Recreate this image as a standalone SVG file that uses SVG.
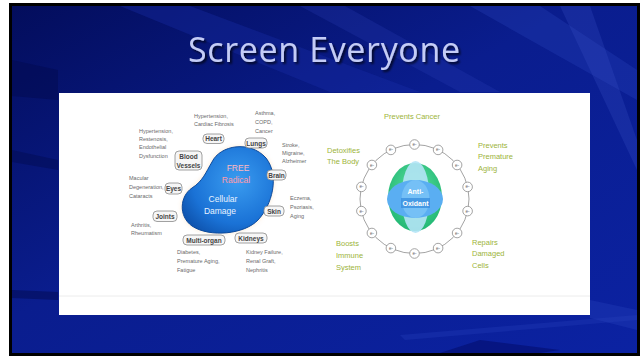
<svg xmlns="http://www.w3.org/2000/svg" width="641" height="358" viewBox="0 0 641 358">
  <defs>
    <linearGradient id="bg" x1="0" y1="0" x2="1" y2="1">
      <stop offset="0" stop-color="#030d5c"/>
      <stop offset="0.45" stop-color="#0a1d8e"/>
      <stop offset="1" stop-color="#0b22a2"/>
    </linearGradient>
    <radialGradient id="blob" cx="0.6" cy="0.4" r="0.7">
      <stop offset="0" stop-color="#3a9cf0"/>
      <stop offset="0.7" stop-color="#1a72d6"/>
      <stop offset="1" stop-color="#0f55b0"/>
    </radialGradient>
    <radialGradient id="green" cx="0.5" cy="0.4" r="0.6">
      <stop offset="0" stop-color="#5fe0a0"/>
      <stop offset="1" stop-color="#22b874"/>
    </radialGradient>
    <filter id="soft" x="-20%" y="-20%" width="140%" height="140%">
      <feGaussianBlur stdDeviation="2.5"/>
    </filter>
    <filter id="titleShadow" x="-10%" y="-30%" width="120%" height="160%">
      <feDropShadow dx="2" dy="2" stdDeviation="1" flood-color="#000000" flood-opacity="0.7"/>
    </filter>
  </defs>
  <style>
    .note { font-family: "Liberation Sans", Arial, sans-serif; font-size: 5.5px; fill: #6a6a6a; }
    .tag rect { fill: #f6f6f6; stroke: #8a8a8a; stroke-width: 0.8; }
    .tag .lbl { font-family: "Liberation Sans", Arial, sans-serif; font-size: 6.5px; font-weight: bold; fill: #444; text-anchor: middle; }
    .benefit { font-family: "Liberation Sans", Arial, sans-serif; font-size: 7.5px; fill: #9cb43a; }
    .electron circle { fill: #fff; stroke: #8c8c8c; stroke-width: 0.8; }
    .electron text { font-family: "Liberation Sans", Arial, sans-serif; font-size: 4.5px; fill: #666; text-anchor: middle; }
  </style>

  <!-- page margin and slide frame -->
  <rect width="641" height="358" fill="#ffffff"/>
  <rect x="9" y="3" width="631" height="353" fill="#000000"/>

  <!-- slide background with diagonal light streaks -->
  <g id="background">
    <rect x="12" y="6" width="625" height="347" fill="url(#bg)"/>
    <polygon points="120,6 190,6 420,92 330,92" fill="#1a2fa8" opacity="0.35"/>
    <polygon points="300,6 345,6 500,92 460,92" fill="#2a40b8" opacity="0.25"/>
    <polygon points="470,6 540,6 637,70 637,100" fill="#2c44bc" opacity="0.3"/>
    <polygon points="560,6 590,6 637,140 637,170" fill="#3a52c8" opacity="0.25"/>
    <polygon points="12,60 58,70 58,100 12,96" fill="#020a50" opacity="0.5"/>
    <polygon points="12,150 58,160 58,170 12,162" fill="#020a50" opacity="0.45"/>
    <polygon points="12,290 58,292 58,300 12,298" fill="#020a50" opacity="0.5"/>
    <polygon points="400,335 637,315 637,320 405,340" fill="#1c34b0" opacity="0.5"/>
    <polygon points="480,340 560,350 540,353 440,353" fill="#020a66" opacity="0.5"/>
    <polygon points="590,300 637,310 637,330 590,318" fill="#2a44c0" opacity="0.3"/>
  </g>

  <!-- title -->
  <g id="title">
    <text x="324" y="62" font-family="'Open Sans', 'Noto Sans', sans-serif" font-size="34" fill="#c4ccf6" text-anchor="middle" textLength="272" filter="url(#titleShadow)">Screen Everyone</text>
  </g>

  <!-- content panel -->
  <rect x="59" y="93" width="531" height="222" fill="#ffffff"/>
  <line x1="59" y1="296" x2="590" y2="296" stroke="#ececec" stroke-width="1"/>

  <!-- free radical damage map -->
  <g id="free-radical">
    <path d="M212,162 C220,145 250,140 266,158 C280,176 272,205 258,220 C245,234 210,238 192,226 C178,216 180,196 192,188 C203,181 206,172 212,162 Z" fill="#f6d2a8" opacity="0.6" filter="url(#soft)"/>
    <path d="M212,162 C220,145 250,140 266,158 C280,176 272,205 258,220 C245,234 210,238 192,226 C178,216 180,196 192,188 C203,181 206,172 212,162 Z" fill="url(#blob)" stroke="#0c4a9c" stroke-width="1"/>
    <text x="238" y="171" font-family="'Liberation Sans', Arial, sans-serif" font-size="8.5" fill="#ffb8c0" text-anchor="middle">FREE</text>
    <text x="236" y="183" font-family="'Liberation Sans', Arial, sans-serif" font-size="8.5" fill="#ff9aa8" text-anchor="middle">Radical</text>
    <text x="223" y="202" font-family="'Liberation Sans', Arial, sans-serif" font-size="8.5" fill="#e8f2ff" text-anchor="middle">Cellular</text>
    <text x="220" y="214" font-family="'Liberation Sans', Arial, sans-serif" font-size="8.5" fill="#e8f2ff" text-anchor="middle">Damage</text>
  </g>

  <g id="heart" class="tag">
    <rect x="203" y="134" width="21" height="9.5" rx="4"/>
    <text class="lbl" x="213.5" y="141">Heart</text>
    <text class="note" x="194" y="118">Hypertension,</text>
    <text class="note" x="194" y="126">Cardiac Fibrosis</text>
  </g>
  <g id="lungs" class="tag">
    <rect x="245" y="138" width="22" height="10" rx="4"/>
    <text class="lbl" x="256" y="145.5">Lungs</text>
    <text class="note" x="255" y="115">Asthma,</text>
    <text class="note" x="255" y="124">COPD,</text>
    <text class="note" x="255" y="133">Cancer</text>
  </g>
  <g id="brain" class="tag">
    <rect x="267" y="170" width="19" height="10" rx="4"/>
    <text class="lbl" x="276.5" y="177.5">Brain</text>
    <text class="note" x="282" y="147">Stroke,</text>
    <text class="note" x="282" y="155">Migraine,</text>
    <text class="note" x="282" y="163">Alzheimer</text>
  </g>
  <g id="skin" class="tag">
    <rect x="264" y="206" width="20" height="10" rx="4"/>
    <text class="lbl" x="274" y="213.5">Skin</text>
    <text class="note" x="290" y="200">Eczema,</text>
    <text class="note" x="290" y="209">Psoriasis,</text>
    <text class="note" x="290" y="218">Aging</text>
  </g>
  <g id="kidneys" class="tag">
    <rect x="235" y="233" width="32" height="10" rx="4"/>
    <text class="lbl" x="251" y="240.5">Kidneys</text>
    <text class="note" x="246" y="254">Kidney Failure,</text>
    <text class="note" x="246" y="263">Renal Graft,</text>
    <text class="note" x="246" y="272">Nephritis</text>
  </g>
  <g id="multi-organ" class="tag">
    <rect x="183" y="235" width="42" height="10" rx="4"/>
    <text class="lbl" x="204" y="242.5">Multi-organ</text>
    <text class="note" x="177" y="254">Diabetes,</text>
    <text class="note" x="177" y="263">Premature Aging,</text>
    <text class="note" x="177" y="272">Fatigue</text>
  </g>
  <g id="joints" class="tag">
    <rect x="153" y="211" width="24" height="10.5" rx="4"/>
    <text class="lbl" x="165" y="218.5">Joints</text>
    <text class="note" x="131" y="227">Arthritis,</text>
    <text class="note" x="131" y="235">Rheumatism</text>
  </g>
  <g id="eyes" class="tag">
    <rect x="165" y="183" width="17" height="11" rx="4"/>
    <text class="lbl" x="173.5" y="191">Eyes</text>
    <text class="note" x="129" y="180">Macular</text>
    <text class="note" x="129" y="189">Degeneration,</text>
    <text class="note" x="129" y="198">Cataracts</text>
  </g>
  <g id="blood-vessels" class="tag">
    <rect x="175" y="151" width="27" height="19" rx="4"/>
    <text class="lbl" x="188.5" y="159">Blood</text>
    <text class="lbl" x="188.5" y="167.5">Vessels</text>
    <text class="note" x="139" y="133">Hypertension,</text>
    <text class="note" x="139" y="141">Restenosis,</text>
    <text class="note" x="139" y="149">Endothelial</text>
    <text class="note" x="139" y="158">Dysfunction</text>
  </g>

  <!-- antioxidant with electron ring -->
  <g id="connectors">
    <circle cx="414.5" cy="199" r="54.5" fill="none" stroke="#8c8c8c" stroke-width="0.8"/>
  </g>
  <g id="electrons" class="electron">
    <g transform="translate(414.5,144.5)"><circle r="4.8"/><text y="1.5">e-</text></g>
    <g transform="translate(438.1,149.9)"><circle r="4.8"/><text y="1.5">e-</text></g>
    <g transform="translate(457.1,165.0)"><circle r="4.8"/><text y="1.5">e-</text></g>
    <g transform="translate(467.6,186.9)"><circle r="4.8"/><text y="1.5">e-</text></g>
    <g transform="translate(467.6,211.1)"><circle r="4.8"/><text y="1.5">e-</text></g>
    <g transform="translate(457.1,233.0)"><circle r="4.8"/><text y="1.5">e-</text></g>
    <g transform="translate(438.1,248.1)"><circle r="4.8"/><text y="1.5">e-</text></g>
    <g transform="translate(414.5,253.5)"><circle r="4.8"/><text y="1.5">e-</text></g>
    <g transform="translate(390.9,248.1)"><circle r="4.8"/><text y="1.5">e-</text></g>
    <g transform="translate(371.9,233.0)"><circle r="4.8"/><text y="1.5">e-</text></g>
    <g transform="translate(361.4,211.1)"><circle r="4.8"/><text y="1.5">e-</text></g>
    <g transform="translate(361.4,186.9)"><circle r="4.8"/><text y="1.5">e-</text></g>
    <g transform="translate(371.9,165.0)"><circle r="4.8"/><text y="1.5">e-</text></g>
    <g transform="translate(390.9,149.9)"><circle r="4.8"/><text y="1.5">e-</text></g>
  </g>
  <g id="antioxidant">
    <ellipse cx="415" cy="197" rx="27" ry="34" fill="url(#green)"/>
    <ellipse cx="415.5" cy="197" rx="14" ry="36" fill="#b4e4f6" opacity="0.9"/>
    <ellipse cx="415" cy="199" rx="28" ry="19" fill="#5aaef2"/>
    <ellipse cx="415.5" cy="199" rx="14" ry="19" fill="#7cc4f6" opacity="0.8"/>
    <rect x="401" y="198" width="29" height="10" fill="#3a8ee0" opacity="0.8"/>
    <text x="415.5" y="194" font-family="'Liberation Sans', Arial, sans-serif" font-size="7" font-weight="bold" fill="#ffffff" text-anchor="middle">Anti-</text>
    <text x="415.5" y="206" font-family="'Liberation Sans', Arial, sans-serif" font-size="7" font-weight="bold" fill="#ffffff" text-anchor="middle">Oxidant</text>
  </g>

  <g id="prevents-cancer"><text class="benefit" x="412" y="119" text-anchor="middle">Prevents Cancer</text></g>
  <g id="detoxifies"><text class="benefit" x="327" y="153">Detoxifies</text><text class="benefit" x="327" y="164">The Body</text></g>
  <g id="prevents-aging"><text class="benefit" x="478" y="148">Prevents</text><text class="benefit" x="478" y="159">Premature</text><text class="benefit" x="478" y="171">Aging</text></g>
  <g id="boosts-immune"><text class="benefit" x="336" y="246">Boosts</text><text class="benefit" x="336" y="258">Immune</text><text class="benefit" x="336" y="270">System</text></g>
  <g id="repairs-cells"><text class="benefit" x="472" y="245">Repairs</text><text class="benefit" x="472" y="256">Damaged</text><text class="benefit" x="472" y="268">Cells</text></g>
</svg>
